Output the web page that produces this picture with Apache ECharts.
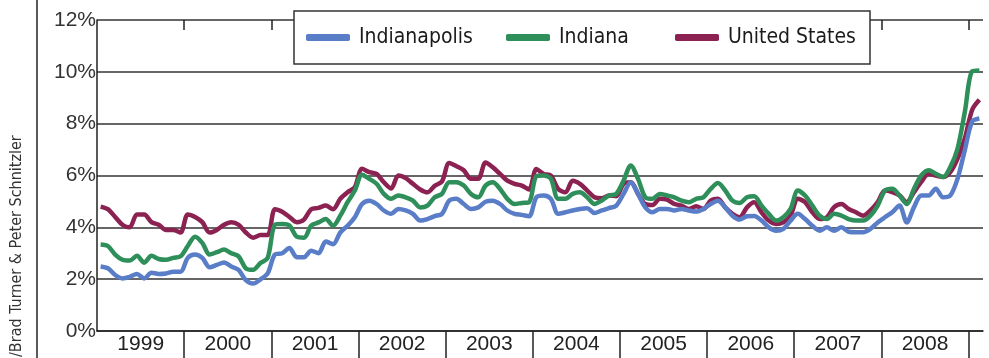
<!DOCTYPE html>
<html>
<head>
<meta charset="utf-8">
<script src="https://cdn.jsdelivr.net/npm/echarts@6/dist/echarts.min.js"></script>
<style>
  html, body { margin: 0; padding: 0; background: #fff; }
  #chart { width: 989px; height: 358px; }
</style>
</head>
<body>
<div id="chart"></div>
<script>
// monthly unemployment rate, Jan 1999 - Feb 2009 (not seasonally adjusted)
var years = ['1999','2000','2001','2002','2003','2004','2005','2006','2007','2008','2009'];
var monthNums = ['01','02','03','04','05','06','07','08','09','10','11','12'];

var indianapolis = [
  2.49, 2.42, 2.16, 2.03, 2.09, 2.2, 2.03, 2.25, 2.2, 2.22, 2.29, 2.29,
  2.82, 2.95, 2.82, 2.46, 2.55, 2.64, 2.49, 2.36, 1.96, 1.83, 1.99, 2.22,
  2.95, 3.0, 3.2, 2.85, 2.85, 3.1, 3.0, 3.45, 3.35, 3.8, 4.06, 4.39,
  4.9, 5.03, 4.9, 4.65, 4.52, 4.71, 4.65, 4.52, 4.26, 4.32, 4.43, 4.52,
  5.03, 5.1, 4.9, 4.71, 4.77, 4.99, 5.03, 4.9, 4.65, 4.52, 4.48, 4.43,
  5.16, 5.23, 5.1, 4.52, 4.58, 4.65, 4.71, 4.74, 4.55, 4.65, 4.74, 4.84,
  5.29, 5.74, 5.29, 4.77, 4.58, 4.71, 4.71, 4.65, 4.71, 4.65, 4.61, 4.71,
  4.9, 5.03, 4.77, 4.45, 4.3, 4.43, 4.44, 4.26, 4.0, 3.87, 3.94, 4.26,
  4.52, 4.32, 4.06, 3.87, 4.0, 3.87, 4.0, 3.83, 3.81, 3.81, 3.94, 4.19,
  4.39, 4.58, 4.84, 4.19, 4.78, 5.23, 5.23, 5.49, 5.16, 5.23, 5.88, 6.98,
  8.08, 8.2
];
var indiana = [
  3.34, 3.28, 2.95, 2.75, 2.72, 2.9, 2.64, 2.9, 2.78, 2.75, 2.82, 2.88,
  3.28, 3.64, 3.4, 2.95, 3.04, 3.14, 3.0, 2.88, 2.42, 2.36, 2.62, 2.82,
  4.1, 4.13, 4.07, 3.64, 3.6, 4.07, 4.19, 4.32, 4.06, 4.45, 4.97, 5.42,
  6.03, 5.87, 5.68, 5.29, 5.1, 5.23, 5.16, 5.03, 4.77, 4.84, 5.16, 5.29,
  5.74, 5.74, 5.61, 5.29, 5.16, 5.61, 5.74, 5.48, 5.1, 4.9, 4.94, 4.97,
  5.97, 6.0, 5.87, 5.1, 5.1, 5.29, 5.35, 5.16, 4.9, 5.03, 5.23, 5.29,
  5.8, 6.39, 5.87, 5.16, 5.1, 5.29, 5.23, 5.16, 5.03, 4.97, 5.1, 5.16,
  5.48, 5.71, 5.42, 5.03, 4.94, 5.16, 5.2, 4.84, 4.52, 4.26, 4.39, 4.71,
  5.42, 5.23, 4.84, 4.45, 4.32, 4.52, 4.45, 4.32, 4.26, 4.26, 4.45, 4.84,
  5.42, 5.49, 5.23, 4.9, 5.49, 6.0, 6.2, 6.07, 5.94, 6.33, 7.04, 8.46,
  10.02, 10.05
];
var unitedStates = [
  4.8, 4.7, 4.4, 4.1, 4.0, 4.5, 4.5, 4.2, 4.1, 3.9, 3.9, 3.8,
  4.5, 4.4, 4.2, 3.8, 3.9, 4.1, 4.2, 4.1, 3.8, 3.6, 3.7, 3.7,
  4.7, 4.6, 4.4, 4.2, 4.3, 4.7, 4.75, 4.84, 4.7, 5.1, 5.35, 5.55,
  6.26, 6.13, 6.06, 5.74, 5.5, 6.0, 5.9, 5.68, 5.46, 5.35, 5.6, 5.77,
  6.48, 6.36, 6.2, 5.87, 5.87, 6.5, 6.32, 6.06, 5.8, 5.68, 5.61, 5.46,
  6.25, 6.06, 6.0, 5.48, 5.35, 5.8, 5.68, 5.42, 5.16, 5.12, 5.23, 5.2,
  5.68, 5.74, 5.29, 4.9, 4.86, 5.1, 5.07, 4.9, 4.84, 4.71, 4.81, 4.71,
  5.03, 5.1, 4.77, 4.52, 4.39, 4.77, 4.97, 4.58, 4.26, 4.13, 4.19, 4.45,
  5.1, 4.97, 4.58, 4.32, 4.39, 4.78, 4.9, 4.71, 4.58, 4.45, 4.65, 4.97,
  5.42, 5.36, 5.23, 4.97, 5.36, 5.75, 6.07, 6.0, 5.94, 6.13, 6.65, 7.43,
  8.53, 8.92
];

var yMin = 0, yMax = 12, yStep = 2;

var months = [];
years.forEach(function (y) {
  monthNums.forEach(function (m) { months.push(y + '-' + m); });
});
months = months.slice(0, indianapolis.length);
// the year dividers only run through Dec 2008
var dividerMonths = months.slice(0, 120);

var font = '"Liberation Sans Narrow", "DejaVu Sans Condensed", sans-serif';
var yearBoundary = function (index) { return index > 0 && index % 12 === 0; };
var bandW = 886 / months.length;

var chart = echarts.init(document.getElementById('chart'));

var option = {
  animation: false,
  grid: [
    { left: 97, right: 6, top: 20, bottom: 27 },
    // same plot, cut at the end of 2008, only for the divider ticks
    { left: 97, right: 989 - 97 - bandW * dividerMonths.length, top: 20, bottom: 27 }
  ],
  graphic: [
    { type: 'line', z: 10, shape: { x1: 37, y1: 0, x2: 37, y2: 358 }, style: { stroke: '#222', lineWidth: 1.5 } },
    { type: 'text', z: 10, x: 17, y: 357, rotation: Math.PI / 2,
      style: { text: '/Brad Turner & Peter Schnitzler', fontSize: 16, fontFamily: font, fill: '#333',
               textAlign: 'left', textVerticalAlign: 'middle', align: 'left', verticalAlign: 'middle' } },
    { type: 'rect', z: 10, shape: { x: 294, y: 11, width: 576, height: 53 },
      style: { fill: '#fff', stroke: '#333', lineWidth: 1.5 } }
  ],
  legend: [
    { data: ['Indianapolis'], left: 306, top: 27 },
    { data: ['Indiana'], left: 506, top: 27 },
    { data: ['United States'], left: 675, top: 27 }
  ].map(function (l) {
    l.z = 20;
    l.padding = 0;
    l.icon = 'roundRect';
    l.itemWidth = 44;
    l.itemHeight = 7;
    l.textStyle = { fontFamily: font, fontSize: 21, color: '#1a1a1a', padding: [0, 0, 0, 4] };
    return l;
  }),
  xAxis: [
    {
      type: 'category',
      gridIndex: 0,
      data: months,
      boundaryGap: true,
      axisLine: { lineStyle: { color: '#222', width: 1.5 } },
      axisTick: { show: false },
      axisLabel: {
        interval: function (index) { return index % 12 === 6; },
        formatter: function (v) { return v.slice(0, 4); },
        margin: 3,
        padding: [0, 7, 0, 0],
        fontFamily: 'Liberation Sans, Arial, sans-serif',
        fontSize: 21,
        color: '#222'
      },
      splitLine: { show: false }
    },
    {
      type: 'category',
      gridIndex: 1,
      data: dividerMonths,
      boundaryGap: true,
      axisLine: { show: false },
      axisTick: { show: true, length: 30, interval: yearBoundary, lineStyle: { color: '#222', width: 1.5 } },
      axisLabel: { show: false },
      splitLine: { show: false }
    },
    {
      type: 'category',
      gridIndex: 1,
      data: dividerMonths,
      boundaryGap: true,
      axisLine: { show: false },
      axisTick: { show: true, inside: true, length: 10, interval: yearBoundary, lineStyle: { color: '#222', width: 1.5 } },
      axisLabel: { show: false },
      splitLine: { show: false }
    }
  ],
  yAxis: [
    {
      type: 'value',
      gridIndex: 0,
      min: yMin,
      max: yMax,
      interval: yStep,
      axisLine: { show: true, lineStyle: { color: '#222', width: 1.5 } },
      axisTick: { show: false },
      axisLabel: {
        formatter: '{value}%',
        margin: 1,
        fontFamily: 'Liberation Sans, Arial, sans-serif',
        fontSize: 21,
        color: '#333'
      },
      splitLine: { lineStyle: { color: '#333', width: 1.5 } }
    },
    { type: 'value', gridIndex: 1, min: yMin, max: yMax, show: false }
  ],
  series: [
    { name: 'Indianapolis', type: 'line', data: indianapolis, z: 4, color: '#5a7dc8' },
    { name: 'Indiana', type: 'line', data: indiana, z: 3, color: '#2f8f5b' },
    { name: 'United States', type: 'line', data: unitedStates, z: 2, color: '#8b2252' }
  ].map(function (s) {
    s.xAxisIndex = 0;
    s.yAxisIndex = 0;
    s.smooth = 0.3;
    s.showSymbol = false;
    s.symbol = 'none';
    s.lineStyle = { width: 4.5 };
    return s;
  })
};

chart.setOption(option);
</script>
</body>
</html>
